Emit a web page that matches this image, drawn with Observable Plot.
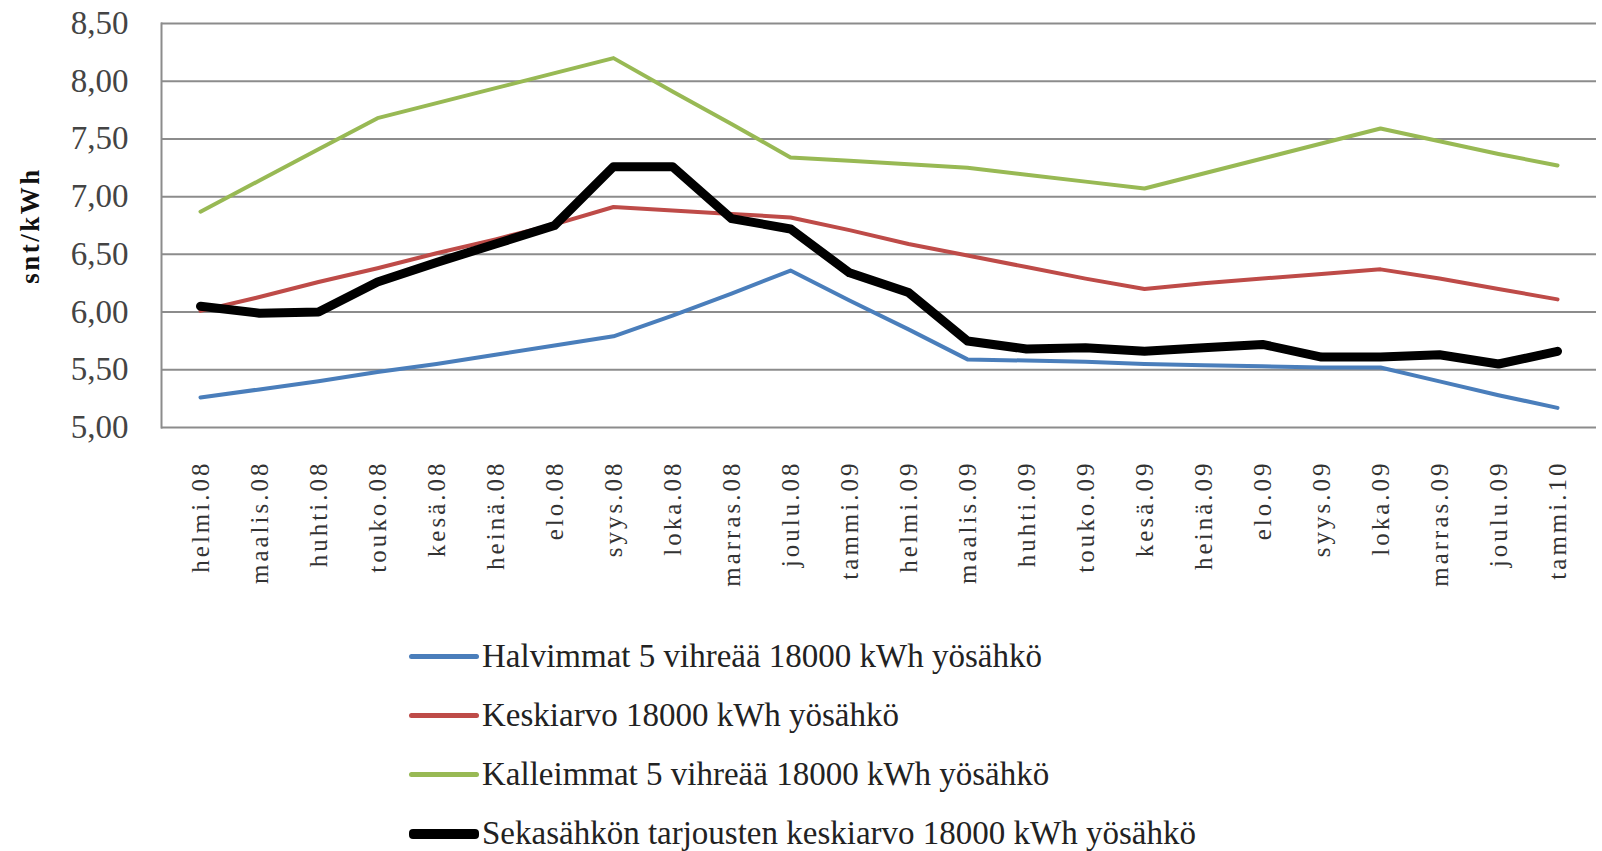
<!DOCTYPE html>
<html>
<head>
<meta charset="utf-8">
<script src="https://cdn.jsdelivr.net/npm/d3@7"></script>
<script src="https://cdn.jsdelivr.net/npm/@observablehq/plot@0.6"></script>
<style>
  html, body { margin: 0; padding: 0; background: #fff; overflow: hidden; }
  #chart svg { display: block; }
  #chart g[aria-label="x-axis tick label"] text { letter-spacing: 3px; }
  #chart g[aria-label="text"] text { letter-spacing: 2.5px; }
  #legend { margin-left: 409px; font-family: "Liberation Serif", serif; font-size: 33px; color: #222; }
  .row { height: 59px; display: flex; align-items: center; }
  .sw { display: inline-block; width: 70px; border-radius: 4px; margin-right: 3px; }
</style>
</head>
<body>
<div id="chart"></div>
<div id="legend"></div>
<script>
const months = ["helmi.08","maalis.08","huhti.08","touko.08","kesä.08","heinä.08","elo.08","syys.08","loka.08","marras.08","joulu.08","tammi.09","helmi.09","maalis.09","huhti.09","touko.09","kesä.09","heinä.09","elo.09","syys.09","loka.09","marras.09","joulu.09","tammi.10"];
const seriesNames = [
  "Halvimmat 5 vihreää 18000 kWh yösähkö",
  "Keskiarvo 18000 kWh yösähkö",
  "Kalleimmat 5 vihreää 18000 kWh yösähkö",
  "Sekasähkön tarjousten keskiarvo 18000 kWh yösähkö"
];
const halvimmat = [5.26,5.33,5.40,5.48,5.55,5.63,5.71,5.79,5.97,6.16,6.36,6.10,5.85,5.59,5.58,5.57,5.55,5.54,5.53,5.52,5.52,5.40,5.28,5.17];
const keskiarvo = [6.01,6.13,6.26,6.38,6.51,6.63,6.76,6.91,6.88,6.85,6.82,6.71,6.59,6.49,6.39,6.29,6.20,6.25,6.29,6.33,6.37,6.29,6.20,6.11];
const kalleimmat = [6.87,7.14,7.41,7.68,7.81,7.94,8.07,8.20,7.91,7.63,7.34,7.31,7.28,7.25,7.19,7.13,7.07,7.20,7.33,7.46,7.59,7.48,7.37,7.27];
const sekasahko = [6.05,5.99,6.00,6.26,6.43,6.59,6.75,7.26,7.26,6.81,6.72,6.34,6.17,5.75,5.68,5.69,5.66,5.69,5.72,5.61,5.61,5.63,5.55,5.66];
const yTicks = [5.0,5.5,6.0,6.5,7.0,7.5,8.0,8.5];
const colors = ["#4a7ebb","#be4b48","#98b954","#000000"];
const widths = [4,4,4,9];

const allSeries = [halvimmat, keskiarvo, kalleimmat, sekasahko];
const data = allSeries.flatMap((vals, s) => vals.map((v, i) => ({month: months[i], value: v, series: seriesNames[s]})));

const fmt = d => d.toFixed(2).replace(".", ",");

const chart = Plot.plot({
  width: 1602,
  height: 627,
  marginTop: 23,
  marginBottom: 200,
  marginLeft: 161,
  marginRight: 6,
  style: {fontFamily: "Liberation Serif, serif", background: "#fff", color: "#333"},
  x: {type: "point", domain: months, padding: 0.5, label: null},
  y: {domain: [5, 8.5], ticks: yTicks, label: null},
  marks: [
    Plot.gridY(yTicks, {stroke: "#8c8c8c", strokeOpacity: 1, strokeWidth: 2}),
    Plot.frame({anchor: "left", stroke: "#8c8c8c", strokeWidth: 2}),
    Plot.axisY(yTicks, {tickSize: 0, tickPadding: 33, tickFormat: fmt, fontSize: 33, fill: "#444"}),
    Plot.axisX({tickSize: 0, tickPadding: 33, tickRotate: -90, fontSize: 25, fill: "#333"}),
    Plot.text(["snt/kWh"], {frameAnchor: "left", dx: -131, rotate: -90, fontWeight: "bold", fontSize: 27, fill: "#111", textAnchor: "middle"}),
    ...seriesNames.map((name, s) => Plot.line(data.filter(d => d.series === name), {
      x: "month", y: "value", stroke: colors[s], strokeWidth: widths[s], strokeLinejoin: "round", strokeLinecap: "round"
    }))
  ]
});
document.getElementById("chart").append(chart);

const legend = document.getElementById("legend");
seriesNames.forEach((name, s) => {
  const row = document.createElement("div");
  row.className = "row";
  const sw = document.createElement("span");
  sw.className = "sw";
  sw.style.height = (s === 3 ? 10 : 5) + "px";
  sw.style.background = colors[s];
  const t = document.createElement("span");
  t.textContent = name;
  row.append(sw, t);
  legend.append(row);
});
</script>
</body>
</html>
